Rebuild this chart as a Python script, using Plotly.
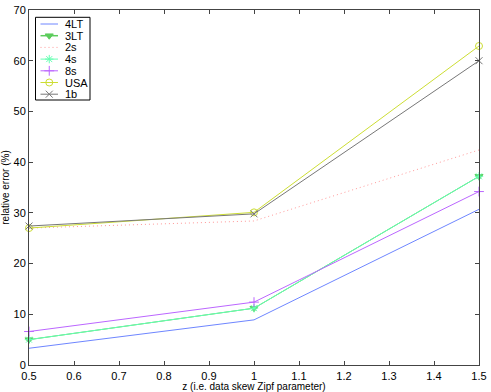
import plotly.graph_objects as go

z = [0.5, 1.0, 1.5]
lt4 = [3.3, 8.9, 30.7]
lt3 = [5.0, 11.2, 37.2]
s2 = [27.0, 28.4, 42.4]
s4 = [5.0, 11.2, 37.2]
s8 = [6.6, 12.4, 34.2]
usa = [27.0, 30.1, 62.9]
b1 = [27.4, 29.8, 60.0]

series = [
    ("4LT", lt4, "#6e86ff", "solid", None, 1),
    ("3LT", lt3, "#5ccc5c", "solid", "triangle-down", 1.5),
    ("2s", s2, "#ff9999", "1px,3px", None, 1),
    ("4s", s4, "#66ffb3", "solid", "asterisk-open", 1),
    ("8s", s8, "#bb66ff", "solid", "cross-thin-open", 1),
    ("USA", usa, "#ccdd33", "solid", "circle-open", 1),
    ("1b", b1, "#777777", "solid", "x-thin-open", 1),
]

FONT = "Liberation Sans, Arial"

fig = go.Figure()
for name, vals, color, dash, sym, lw in series:
    if sym:
        marker = dict(symbol=sym, size=7, color=color, line=dict(color=color, width=1))
        mode = "lines+markers"
    else:
        marker = None
        mode = "lines"
    fig.add_trace(go.Scatter(x=z, y=vals, name=name, mode=mode, showlegend=False,
                             cliponaxis=False,
                             line=dict(color=color, width=1, dash=dash),
                             marker=marker))

# custom compact legend drawn on an overlay axis measured in pixels
L_LEFT, L_RIGHT, L_TOP, L_BOTTOM = 35.5, 90, 17.3, 100
ROW0, ROWSTEP = 24, 11.7
SAMPLE_X0, SAMPLE_X1, TEXT_X = 40.5, 58, 62.5
fig.add_shape(type="rect", xref="x2", yref="y2", x0=L_LEFT, x1=L_RIGHT, y0=L_TOP, y1=L_BOTTOM,
              line=dict(color="black", width=1), fillcolor="white", layer="below")
for i, (name, vals, color, dash, sym, lw) in enumerate(series):
    yy = ROW0 + i * ROWSTEP
    fig.add_trace(go.Scatter(x=[SAMPLE_X0, SAMPLE_X1], y=[yy, yy], xaxis="x2", yaxis="y2",
                             mode="lines", showlegend=False, hoverinfo="skip",
                             line=dict(color=color, width=lw, dash=dash)))
    if sym:
        fig.add_trace(go.Scatter(x=[(SAMPLE_X0 + SAMPLE_X1) / 2], y=[yy], xaxis="x2", yaxis="y2",
                                 mode="markers", showlegend=False, hoverinfo="skip",
                                 marker=dict(symbol=sym, size=7, color=color,
                                             line=dict(color=color, width=1))))
    fig.add_annotation(x=TEXT_X, y=yy, xref="x2", yref="y2", text=name, showarrow=False,
                       xanchor="left", yanchor="middle",
                       font=dict(family=FONT, size=11, color="black"))

axis_common = dict(showgrid=False, zeroline=False, showline=True, linecolor="#444444",
                   linewidth=1, mirror="allticks", ticks="inside", ticklen=4,
                   tickcolor="#444444", automargin=False,
                   tickfont=dict(family=FONT, size=11, color="black"))
xaxis = dict(range=[0.5, 1.5], dtick=0.1, tick0=0.5, anchor="y", ticklabelstandoff=1,
             title=dict(text="z (i.e. data skew Zipf parameter)", standoff=5,
                        font=dict(family=FONT, size=10, color="black")),
             **axis_common)
yaxis = dict(range=[0, 70], dtick=10, tick0=0, anchor="x",
             title=dict(text="relative error (%)", standoff=2,
                        font=dict(family=FONT, size=10, color="black")),
             **axis_common)
fig.update_layout(
    width=491, height=392,
    margin=dict(l=29, r=12, t=10, b=27),
    plot_bgcolor="white", paper_bgcolor="white",
    showlegend=False,
    xaxis=xaxis,
    yaxis=yaxis,
    xaxis2=dict(overlaying="x", range=[29, 479], visible=False, anchor="y2"),
    yaxis2=dict(overlaying="y", range=[365, 10], visible=False, anchor="x2"),
)
fig.write_html("out.html", config={"displayModeBar": False},
               post_script="document.body.style.margin='0';document.body.style.overflow='hidden';")
